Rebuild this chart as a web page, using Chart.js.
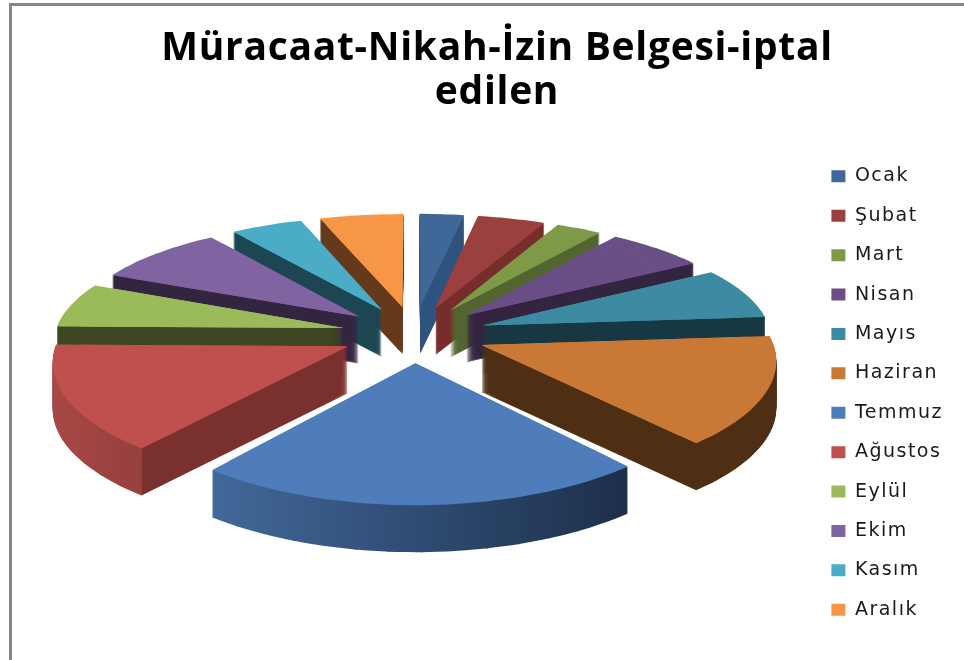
<!DOCTYPE html>
<html lang="tr">
<head>
<meta charset="utf-8">
<title>Müracaat-Nikah-İzin Belgesi-iptal edilen</title>
<script src="https://cdn.jsdelivr.net/npm/chart.js@4/dist/chart.umd.min.js"></script>
<style>
  html, body { margin: 0; padding: 0; background: #fff; overflow: hidden; }
  #frame { position: absolute; left: 9px; top: 3px; right: 0; bottom: 0; border-left: 3px solid #868686; border-top: 3px solid #868686; }
  #chart { position: absolute; left: 0; top: 0; }
</style>
</head>
<body>
<div id="frame"></div>
<canvas id="chart" width="964" height="660"></canvas>
<script>
const months = ["Ocak", "Şubat", "Mart", "Nisan", "Mayıs", "Haziran", "Temmuz", "Ağustos", "Eylül", "Ekim", "Kasım", "Aralık"];
const values = [2.8, 4.3, 2.9, 6.4, 7.4, 14.9, 22.1, 14.5, 6.4, 8.5, 4.6, 5.3];

const topColors = ["#3f6797", "#9b403f", "#7e9a47", "#694f85", "#3c8ba3", "#c97935", "#4f7dbb", "#bf504e", "#9bba59", "#8064a2", "#4bacc6", "#f79646"];
const wallLeft = ["#30527e", "#762d2c", "#526530", "#33243f", "#173742", "#4f2f14", "#42689a", "#a84846", "#3f4622", "#33243f", "#1b4652", "#653a1c"];
const wallRight = ["#30527e", "#762d2c", "#526530", "#33243f", "#173742", "#4f2f14", "#1c2f4a", "#963f3d", "#3f4622", "#33243f", "#1b4652", "#653a1c"];
const wallCut = [null, null, null, null, null, null, null, "#7b3030", null, null, null, null];

// tilted pie: plane coords (u right, v far, rim = 1) to screen
const view = { cx: 414, cy: 334, a: 289, b: 113, perspX: 0.11, perspY: 0.14, explode: 0.25, depth: 47, stepDeg: 6 };

function project(u, v) {
    return {
        x: view.cx + view.a * u / (1 + view.perspX * v),
        y: view.cy - view.b * v / (1 + view.perspY * v)
    };
}

function planePoint(mid, angle, r) {
    return project(
        view.explode * Math.cos(mid) + r * Math.cos(angle),
        -view.explode * Math.sin(mid) - r * Math.sin(angle)
    );
}

// affine that puts one arc segment on its projected apex and rim points
function segmentMatrix(arc, mid, a0, a1) {
    const R = arc.outerRadius;
    const ex = [R * Math.cos(a0), R * Math.sin(a0)];
    const ey = [R * Math.cos(a1), R * Math.sin(a1)];
    const o = planePoint(mid, 0, 0);
    const s = planePoint(mid, a0, 1);
    const t = planePoint(mid, a1, 1);
    const det = ex[0] * ey[1] - ex[1] * ey[0];
    const fx = [s.x - o.x, s.y - o.y];
    const fy = [t.x - o.x, t.y - o.y];
    const a = (fx[0] * ey[1] - fy[0] * ex[1]) / det;
    const c = (fy[0] * ex[0] - fx[0] * ey[0]) / det;
    const b = (fx[1] * ey[1] - fy[1] * ex[1]) / det;
    const d = (fy[1] * ex[0] - fx[1] * ey[0]) / det;
    return { a, b, c, d, e: o.x - a * arc.x - c * arc.y, f: o.y - b * arc.x - d * arc.y };
}

function drawPiece(ctx, arc, m, lift, a0, a1, radius, fill) {
    const seg = {
        x: arc.x, y: arc.y, innerRadius: 0, outerRadius: radius,
        startAngle: a0, endAngle: a1, circumference: a1 - a0
    };
    seg.options = Object.assign({}, arc.options, { backgroundColor: fill, borderWidth: 0 });
    ctx.save();
    ctx.setTransform(m.a, m.b, m.c, m.d, m.e, m.f + lift);
    arc.draw.call(seg, ctx);
    ctx.restore();
}

function drawSegments(ctx, arc, lift, fillFor) {
    const mid = (arc.startAngle + arc.endAngle) / 2;
    const span = arc.endAngle - arc.startAngle;
    const step = view.stepDeg * Math.PI / 180;
    const n = Math.max(1, Math.ceil(span / step));
    const lap = 0.003;
    for (let k = 0; k < n; k++) {
        const a0 = arc.startAngle + span * k / n;
        const a1 = arc.startAngle + span * (k + 1) / n;
        const m = segmentMatrix(arc, mid, a0, a1);
        drawPiece(ctx, arc, m, lift, k ? a0 - lap : a0, k < n - 1 ? a1 + lap : a1, arc.outerRadius, fillFor(m));
    }
}

// one whole slice a little smaller, so the joins between segments stay closed
function drawBase(ctx, arc, fill) {
    const mid = (arc.startAngle + arc.endAngle) / 2;
    const m = segmentMatrix(arc, mid, arc.startAngle, arc.endAngle);
    drawPiece(ctx, arc, m, 0, arc.startAngle, arc.endAngle, arc.outerRadius * 0.92, fill);
}

// left to right shading of the side walls, in screen x
function wallFill(ctx, arc, i) {
    const mid = (arc.startAngle + arc.endAngle) / 2;
    let x0 = Infinity, x1 = -Infinity;
    for (let k = 0; k <= 16; k++) {
        const p = planePoint(mid, arc.startAngle + (arc.endAngle - arc.startAngle) * k / 16, 1);
        x0 = Math.min(x0, p.x);
        x1 = Math.max(x1, p.x);
    }
    const apex = planePoint(mid, 0, 0);
    x0 = Math.min(x0, apex.x);
    x1 = Math.max(x1, apex.x);
    const corner = planePoint(mid, arc.startAngle, 1).x;
    return (m) => {
        const q = m.a * m.a + m.c * m.c;
        const g = ctx.createLinearGradient(
            (x0 - m.e) * m.a / q, (x0 - m.e) * m.c / q,
            (x1 - m.e) * m.a / q, (x1 - m.e) * m.c / q
        );
        g.addColorStop(0, wallLeft[i]);
        if (wallCut[i]) {
            const t = (corner - x0) / (x1 - x0);
            g.addColorStop(t, wallRight[i]);
            g.addColorStop(t, wallCut[i]);
            g.addColorStop(1, wallCut[i]);
        } else {
            g.addColorStop(1, wallRight[i]);
        }
        return g;
    };
}

function spaceText(box, ctx, spacing) {
    const draw = box.draw;
    box.draw = function () {
        ctx.letterSpacing = spacing;
        draw.call(this);
        ctx.letterSpacing = "0px";
    };
}

const tiltedPie = {
    id: "tiltedPie",
    afterLayout(chart) {
        // lettering in the picture runs wider than the installed fonts
        if (chart.legend.spaced) return;
        chart.legend.spaced = true;
        spaceText(chart.legend, chart.ctx, "1.5px");
        spaceText(chart.titleBlock, chart.ctx, "0.7px");
    },
    beforeDatasetDraw(chart, args) {
        const ctx = chart.ctx;
        const arcs = args.meta.data;
        const order = arcs.map((arc, i) => i).sort((p, q) => {
            const mp = (arcs[p].startAngle + arcs[p].endAngle) / 2;
            const mq = (arcs[q].startAngle + arcs[q].endAngle) / 2;
            return Math.sin(mp) - Math.sin(mq);
        });
        order.forEach((i) => {
            const fill = wallFill(ctx, arcs[i], i);
            for (let d = view.depth; d >= 1; d--) {
                drawSegments(ctx, arcs[i], d, fill);
            }
        });
        order.forEach((i) => {
            drawBase(ctx, arcs[i], topColors[i]);
            drawSegments(ctx, arcs[i], 0, () => topColors[i]);
        });
        return false;
    }
};

new Chart(document.getElementById("chart"), {
    type: "pie",
    data: {
        labels: months,
        datasets: [{
            data: values,
            backgroundColor: topColors,
            borderWidth: 0
        }]
    },
    options: {
        responsive: false,
        animation: false,
        events: [],
        layout: { padding: { left: 50, right: 20, top: 27, bottom: 9 } },
        plugins: {
            tooltip: { enabled: false },
            title: {
                display: true,
                text: ["Müracaat-Nikah-İzin Belgesi-iptal", "edilen"],
                color: "#000",
                font: { family: "Open Sans", size: 39, weight: "bold", lineHeight: 1.13 },
                padding: { top: 0, bottom: 20 }
            },
            legend: {
                position: "right",
                fullSize: false,
                labels: {
                    color: "#1a1a1a",
                    boxWidth: 14,
                    boxHeight: 12,
                    padding: 20.4,
                    font: { family: "DejaVu Sans", size: 19 }
                }
            }
        }
    },
    plugins: [tiltedPie]
});
</script>
</body>
</html>
